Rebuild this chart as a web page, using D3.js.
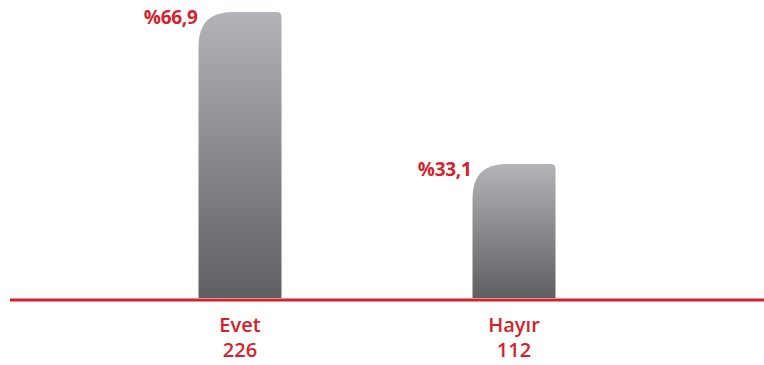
<!DOCTYPE html>
<html>
<head>
<meta charset="utf-8">
<script src="https://cdn.jsdelivr.net/npm/d3@7"></script>
<style>
  html, body { margin: 0; padding: 0; background: #fff; }
  svg { display: block; }
  text { font-family: "Open Sans", "Noto Sans", sans-serif; }
</style>
</head>
<body>
<div id="chart"></div>
<script>
// Survey answers: share of respondents and counts
const categories = ["Evet", "Hayır"];
const percents = [66.9, 33.1];
const counts = [226, 112];
const percentLabels = ["%66,9", "%33,1"];

const width = 764, height = 365;
const red = "#d3222d";

const svg = d3.select("#chart").append("svg")
  .attr("width", width).attr("height", height);

const defs = svg.append("defs");
const grad = defs.append("linearGradient")
  .attr("id", "barGrad").attr("x1", 0).attr("y1", 0).attr("x2", 0).attr("y2", 1);
grad.append("stop").attr("offset", "0%").attr("stop-color", "#b3b4b7");
grad.append("stop").attr("offset", "100%").attr("stop-color", "#5e5f63");

const baseY = 298;
const x = d3.scalePoint().domain(categories).range([240, 514]);
const y = d3.scaleLinear().domain([3.3, 66.9]).range([baseY, 12]);
const barW = 83;

// Bar outline: large rounded top-left corner, small rounded top-right
function barPath(cx, top) {
  const x0 = cx - barW / 2, x1 = cx + barW / 2;
  const rL = 34, rR = 5;
  return `M${x0},${baseY}` +
    `L${x0},${top + rL}` +
    `Q${x0},${top} ${x0 + rL},${top}` +
    `L${x1 - rR},${top}` +
    `Q${x1},${top} ${x1},${top + rR}` +
    `L${x1},${baseY}Z`;
}

const data = categories.map((c, i) => ({ c, p: percents[i], n: counts[i], lbl: percentLabels[i] }));

svg.append("g").selectAll("path").data(data).join("path")
  .attr("d", d => barPath(x(d.c), y(d.p)))
  .attr("fill", "url(#barGrad)");

// Percentage labels beside the top-left of each bar
svg.append("g").selectAll("text").data(data).join("text")
  .attr("x", d => x(d.c) - barW / 2 - 1)
  .attr("y", d => y(d.p) + 12)
  .attr("text-anchor", "end")
  .attr("fill", red)
  .attr("font-size", 19)
  .attr("font-weight", 700)
  .attr("letter-spacing", -0.3)
  .text(d => d.lbl);

// Baseline
svg.append("line")
  .attr("x1", 10).attr("x2", width)
  .attr("y1", baseY + 2).attr("y2", baseY + 2)
  .attr("stroke", red).attr("stroke-width", 3);

// Category names and counts
const lab = svg.append("g").selectAll("g").data(data).join("g");
lab.append("text")
  .attr("x", d => x(d.c)).attr("y", 332)
  .attr("text-anchor", "middle").attr("fill", red)
  .attr("font-size", 20).attr("font-weight", 600)
  .text(d => d.c);
lab.append("text")
  .attr("x", d => x(d.c)).attr("y", 357)
  .attr("text-anchor", "middle").attr("fill", red)
  .attr("font-size", 20).attr("font-weight", 600)
  .text(d => d.n);
</script>
</body>
</html>
